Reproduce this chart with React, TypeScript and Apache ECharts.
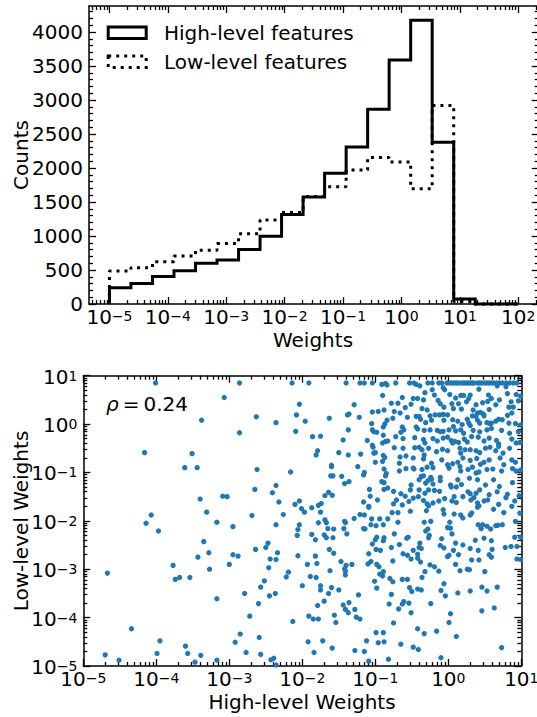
import React, { useEffect, useRef } from "react";
import * as echarts from "echarts";

// ---------- Histogram data (x in log10(weight)) ----------
const binEdges = [
  -5.0, -4.632, -4.263, -3.895, -3.526, -3.158, -2.789, -2.421, -2.053, -1.684,
  -1.316, -0.947, -0.579, -0.211, 0.158, 0.526, 0.895, 1.263, 1.632, 2.0,
];
const highCounts = [240, 300, 405, 490, 600, 648, 800, 995, 1315, 1575, 1925, 2310, 2865, 3590, 4175, 2380, 75, 0, 0];
const lowCounts = [485, 535, 620, 705, 790, 890, 1035, 1235, 1345, 1580, 1725, 1970, 2155, 2090, 1695, 2920, 35, 0, 0];

const countTicks = [0, 500, 1000, 1500, 2000, 2500, 3000, 3500, 4000];
const histDecades = [-5, -4, -3, -2, -1, 0, 1, 2];
const scatterDecades = [-5, -4, -3, -2, -1, 0, 1];
const legendLabels = ["High-level features", "Low-level features"];
const axisTitles = { histX: "Weights", histY: "Counts", scX: "High-level Weights", scY: "Low-level Weights" };
const rhoValue = "0.24";

// ---------- Scatter data: [log10(high-level weight), log10(low-level weight)] ----------
const scatterLeft: [number, number][] = [
  [-4.01,0.85],[-2.86,0.85],[-3.07,0.55],[-3.38,0.08],[-2.63,0.15],[-2.86,-0.18],[-4.16,-0.59],[-3.51,-0.61],[-3.61,-0.90],[-3.44,-0.90],
  [-2.62,-0.94],[-2.65,-1.35],[-3.09,-1.49],[-3.03,-1.50],[-3.40,-1.55],[-3.31,-1.82],[-4.07,-1.88],[-4.14,-2.05],[-2.69,-1.89],[-3.17,-2.03],
  [-3.97,-2.21],[-2.95,-2.12],[-3.35,-2.43],[-2.64,-2.59],[-3.28,-2.66],[-3.43,-2.75],[-2.95,-2.70],[-2.88,-2.73],[-3.77,-2.92],[-3.00,-2.90],
  [-3.27,-3.00],[-4.67,-3.08],[-3.74,-3.21],[-3.68,-3.17],[-3.54,-3.17],[-3.17,-3.61],[-2.79,-3.50],[-2.60,-3.71],[-2.72,-3.97],[-4.34,-4.23],
  [-3.95,-4.48],[-2.85,-4.34],[-2.59,-4.41],[-2.92,-4.51],[-3.60,-4.59],[-4.70,-4.77],[-4.51,-4.88],[-3.99,-4.74],[-3.57,-4.74],[-3.39,-4.78],
  [-3.47,-4.92],[-3.17,-4.88],[-2.77,-4.72],[-2.57,-3.37],
];
const scatterMidUpper: [number, number][] = [
  [-2.14,0.85],[-1.91,0.85],[-1.40,0.85],[-1.21,0.85],[-1.15,0.85],[-1.04,0.85],[-0.91,0.82],[-0.86,0.84],[-0.84,0.81],[-0.90,0.59],
  [-2.04,0.41],[-1.29,0.40],[-2.08,0.19],[-1.36,0.21],[-1.38,0.19],[-1.22,0.14],[-1.04,0.25],[-0.96,0.26],[-0.88,0.29],[-2.36,0.03],
  [-1.96,0.06],[-1.63,0.12],[-0.84,0.08],[-2.09,-0.15],[-1.37,-0.12],[-1.05,0.01],[-0.87,0.00],[-0.89,-0.06],[-1.04,-0.12],[-1.02,-0.16],
  [-0.98,-0.17],[-0.89,-0.23],[-1.86,-0.26],[-1.75,-0.25],[-1.44,-0.33],[-1.11,-0.34],[-0.90,-0.39],[-0.86,-0.36],[-0.83,-0.35],[-1.04,-0.44],
  [-1.03,-0.48],[-1.79,-0.55],[-1.81,-0.64],[-1.50,-0.59],[-1.37,-0.64],[-1.20,-0.62],[-1.02,-0.60],[-1.00,-0.59],[-0.89,-0.65],[-0.90,-0.77],
  [-0.87,-0.69],[-1.00,-0.79],[-1.60,-0.85],[-1.60,-0.88],[-1.24,-0.88],[-2.16,-0.99],[-1.15,-1.00],[-1.16,-1.05],[-0.88,-0.93],[-0.85,-1.02],
  [-0.86,-1.07],[-1.61,-1.07],[-1.58,-1.07],[-1.46,-1.08],[-1.36,-1.19],[-1.42,-1.23],[-0.91,-1.19],[-0.88,-1.21],[-2.36,-1.27],[-0.83,-1.32],
  [-0.88,-1.35],[-1.08,-1.35],[-2.41,-1.42],[-1.64,-1.41],[-1.69,-1.48],[-1.59,-1.47],[-1.07,-1.49],[-2.32,-1.61],[-2.04,-1.59],[-2.10,-1.66],
  [-1.74,-1.64],[-1.78,-1.68],[-1.16,-1.61],[-0.97,-1.57],[-1.09,-1.70],[-1.09,-1.72],[-2.01,-1.75],[-1.87,-1.73],[-2.26,-1.87],[-1.97,-1.82],
  [-1.75,-1.82],[-1.21,-1.87],[-1.15,-1.88],[-1.69,-1.98],[-1.29,-1.95],[-1.05,-1.96],[-0.94,-1.96],[-0.83,-1.96],
];
const scatterMidLower: [number, number][] = [
  [-2.36,-2.08],[-2.04,-2.08],[-1.78,-2.04],[-1.67,-2.04],[-1.42,-2.01],[-1.41,-2.04],[-2.06,-2.18],[-1.65,-2.16],[-1.57,-2.17],[-1.43,-2.16],
  [-1.16,-2.16],[-1.14,-2.17],[-1.06,-2.08],[-0.99,-2.10],[-0.89,-2.08],[-2.07,-2.30],[-1.87,-2.28],[-1.70,-2.29],[-1.67,-2.35],[-1.58,-2.35],
  [-1.39,-2.27],[-1.82,-2.39],[-0.98,-2.34],[-1.00,-2.39],[-0.88,-2.35],[-0.89,-2.41],[-2.47,-2.46],[-2.50,-2.55],[-1.63,-2.59],[-1.57,-2.67],
  [-1.04,-2.48],[-0.99,-2.59],[-0.93,-2.61],[-1.09,-2.68],[-2.34,-2.66],[-2.06,-2.72],[-1.82,-2.73],[-2.44,-2.79],[-2.36,-2.80],[-1.47,-2.84],
  [-1.40,-2.92],[-1.32,-2.90],[-1.06,-2.84],[-1.10,-2.89],[-0.98,-2.90],[-0.95,-2.95],[-0.89,-3.05],[-0.94,-3.10],[-0.90,-3.14],[-1.93,-2.90],
  [-1.80,-2.88],[-2.46,-2.97],[-1.42,-2.99],[-1.41,-3.04],[-1.41,-3.12],[-1.62,-3.03],[-2.19,-3.06],[-2.22,-3.16],[-1.89,-3.15],[-1.81,-3.17],
  [-1.01,-3.25],[-0.98,-3.39],[-2.52,-3.24],[-2.00,-3.34],[-1.75,-3.34],[-1.75,-3.43],[-1.60,-3.38],[-1.64,-3.50],[-1.50,-3.43],[-1.23,-3.53],
  [-2.45,-3.55],[-2.37,-3.50],[-1.70,-3.66],[-1.79,-3.75],[-1.36,-3.69],[-1.44,-3.74],[-1.41,-3.83],[-1.37,-3.90],[-1.28,-3.83],[-0.81,-3.72],
  [-1.91,-3.97],[-1.85,-4.03],[-1.78,-4.03],[-1.56,-3.95],[-1.54,-4.10],[-1.26,-3.99],[-1.21,-4.03],[-2.13,-4.08],[-0.99,-4.31],[-0.89,-4.31],
  [-1.12,-4.48],[-0.96,-4.52],[-0.88,-4.50],[-1.92,-4.50],[-1.72,-4.48],[-1.84,-4.72],[-1.59,-4.63],[-1.28,-4.68],[-1.15,-4.70],[-2.43,-4.87],
  [-2.39,-4.84],[-2.36,-4.98],[-1.09,-4.90],[-0.82,-4.86],[-2.57,-4.76],
];
const scatterRightUpper: [number, number][] = [
  [-0.72,0.85],[-0.53,0.85],[-0.47,0.85],[-0.44,0.82],[-0.28,0.85],[-0.22,0.85],[-0.13,0.85],[-0.09,0.85],[-0.02,0.85],[0.02,0.85],
  [0.05,0.85],[0.08,0.85],[0.11,0.85],[0.14,0.85],[0.18,0.85],[0.21,0.85],[0.24,0.85],[0.27,0.85],[0.30,0.85],[0.33,0.85],
  [0.35,0.85],[0.40,0.85],[0.43,0.85],[0.46,0.85],[0.50,0.85],[0.53,0.85],[0.56,0.85],[0.59,0.85],[0.62,0.85],[0.66,0.85],
  [0.70,0.85],[0.74,0.85],[0.79,0.85],[0.84,0.85],[0.89,0.85],[0.94,0.85],[-0.39,0.79],[-0.07,0.75],[-0.05,0.71],[0.67,0.79],
  [0.79,0.77],
  [-0.22,0.71],[-0.32,0.65],[-0.19,0.60],[0.02,0.61],[0.10,0.54],[0.17,0.59],[0.21,0.59],[0.30,0.60],[0.42,0.72],[0.55,0.60],
  [0.59,0.53],[0.81,0.63],[0.93,0.61],[0.96,0.48],[-0.63,0.55],[-0.48,0.53],[-0.42,0.53],[-0.34,0.50],[-0.78,0.43],[-0.69,0.43],
  [-0.51,0.41],[-0.14,0.49],[-0.11,0.42],[0.05,0.42],[0.14,0.42],[0.25,0.46],[0.28,0.53],[0.38,0.40],[0.47,0.44],[0.54,0.47],
  [0.65,0.40],[0.70,0.50],[0.86,0.46],[-0.59,0.34],[-0.74,0.26],[-0.66,0.23],[-0.36,0.32],[-0.29,0.29],[-0.06,0.35],[0.07,0.32],
  [0.18,0.31],[0.34,0.29],[0.40,0.23],[0.44,0.24],[0.48,0.21],[0.56,0.30],[0.83,0.35],[0.89,0.35],[-0.44,0.16],[-0.40,0.16],
  [-0.25,0.17],[-0.18,0.19],[-0.12,0.19],[-0.07,0.20],[-0.01,0.19],[0.33,0.17],[0.38,0.16],[0.49,0.17],[0.81,0.18],[0.87,0.23],
  [-0.76,0.12],[-0.56,0.14],[-0.38,0.10],[-0.31,0.03],[-0.23,0.08],[-0.06,0.08],[0.06,0.09],[0.13,0.06],[0.26,0.10],[0.28,0.02],
  [0.30,-0.03],[0.40,0.08],[0.43,0.02],[0.53,0.03],[0.57,0.01],[0.59,0.02],[0.65,0.06],[0.69,0.10],[0.74,0.09],[0.83,0.02],
  [0.92,0.01],[0.07,-0.05],[0.19,-0.01],[-0.63,-0.06],[-0.61,-0.12],[-0.65,-0.17],[-0.44,-0.06],[-0.42,-0.10],[-0.33,-0.13],[-0.25,-0.12],
  [-0.15,-0.13],[-0.11,-0.16],[-0.07,-0.15],[0.01,-0.12],[0.10,-0.14],[0.17,-0.12],[0.21,-0.19],[0.34,-0.13],[0.43,-0.16],[0.53,-0.12],
  [0.59,-0.09],[0.73,-0.13],[0.84,-0.19],[0.96,-0.16],[-0.72,-0.26],[-0.62,-0.30],[-0.46,-0.28],[-0.34,-0.32],[-0.32,-0.39],[-0.21,-0.30],
  [-0.15,-0.35],[-0.07,-0.29],[-0.01,-0.27],[0.04,-0.34],[0.06,-0.39],[0.09,-0.36],[0.14,-0.38],[0.22,-0.31],[0.26,-0.37],[0.32,-0.26],
  [0.41,-0.27],[0.49,-0.35],[0.56,-0.29],[0.66,-0.34],[0.69,-0.41],[0.87,-0.31],[0.93,-0.39],[0.98,-0.38],[-0.74,-0.49],[-0.62,-0.50],
  [-0.46,-0.49],[-0.40,-0.48],[-0.36,-0.53],[-0.27,-0.50],[-0.16,-0.57],[-0.08,-0.52],[-0.01,-0.55],[0.16,-0.50],[0.17,-0.60],[0.23,-0.53],
  [0.30,-0.53],[0.38,-0.55],[0.43,-0.59],[0.51,-0.50],[0.57,-0.48],[0.65,-0.55],[0.69,-0.46],[0.75,-0.60],[0.84,-0.50],[-0.58,-0.66],
  [-0.66,-0.68],[-0.33,-0.64],[0.99,0.58],[0.99,-0.02],
];
const scatterRightMid: [number, number][] = [
  [-0.48,-0.70],[-0.34,-0.72],[-0.23,-0.81],[-0.09,-0.74],[-0.01,-0.84],[0.06,-0.82],[0.13,-0.79],[0.20,-0.70],[0.30,-0.75],[0.39,-0.71],
  [0.44,-0.83],[0.49,-0.79],[0.56,-0.74],[0.71,-0.70],[0.76,-0.84],[0.87,-0.74],[0.92,-0.79],[-0.67,-0.81],[0.16,-0.88],[0.33,-0.89],
  [-0.48,-0.91],[-0.67,-0.97],[-0.58,-0.92],[-0.47,-0.93],[-0.36,-0.94],[-0.29,-0.89],[-0.21,-0.90],[0.01,-0.91],[0.17,-0.97],[0.27,-0.94],
  [0.38,-1.01],[0.42,-0.99],[0.53,-0.94],[0.61,-0.93],[0.73,-0.97],[0.88,-0.92],[0.93,-0.97],[-0.37,-1.08],[-0.34,-1.07],[-0.24,-1.10],
  [-0.11,-1.10],[-0.40,-1.15],[-0.31,-1.22],[-0.28,-1.17],[-0.23,-1.14],[-0.21,-1.24],[-0.11,-1.17],[0.03,-1.26],[0.13,-1.15],[0.18,-1.25],
  [0.29,-1.12],[0.40,-1.15],[0.51,-1.26],[0.62,-1.15],[0.70,-1.29],[0.88,-1.21],[-0.51,-1.26],[-0.75,-1.39],[-0.65,-1.44],[-0.52,-1.36],
  [-0.40,-1.36],[-0.32,-1.43],[-0.27,-1.36],[-0.19,-1.37],[-0.12,-1.39],[0.04,-1.30],[0.11,-1.30],[0.08,-1.50],[0.20,-1.50],[0.27,-1.40],
  [0.30,-1.44],[0.38,-1.43],[0.43,-1.36],[0.56,-1.46],[0.67,-1.40],[0.81,-1.45],[0.97,-1.48],[-0.71,-1.57],[-0.59,-1.49],[-0.48,-1.53],
  [-0.41,-1.50],[-0.34,-1.58],[-0.29,-1.65],[-0.21,-1.63],[-0.13,-1.59],[-0.05,-1.54],[0.05,-1.59],[0.11,-1.62],[0.31,-1.57],[0.35,-1.52],
  [0.40,-1.63],[0.42,-1.69],[0.49,-1.59],[0.54,-1.57],[0.69,-1.66],[0.79,-1.52],[0.91,-1.59],[-0.75,-1.65],[-0.63,-1.67],[-0.54,-1.60],
  [-0.27,-1.69],[-0.30,-1.79],[-0.07,-1.77],[-0.06,-1.86],[0.08,-1.86],[0.17,-1.88],[0.30,-1.88],[0.32,-1.84],[-0.77,-1.83],[-0.69,-1.83],
  [-0.52,-1.80],[0.40,-1.72],[0.62,-1.76],[0.87,-1.70],[0.76,-1.83],[0.98,-1.84],[0.20,-1.94],[0.99,-0.95],
];
const scatterRightLower: [number, number][] = [
  [-0.69,-2.03],[-0.74,-2.27],[-0.33,-2.03],[-0.24,-2.01],[0.02,-2.03],[-0.01,-2.14],[0.03,-2.15],[0.05,-2.27],[-0.28,-2.17],[-0.31,-2.21],
  [-0.26,-2.30],[-0.27,-2.35],[-0.09,-2.37],[0.41,-2.08],[0.47,-2.08],[0.45,-2.16],[0.53,-2.11],[0.58,-2.17],[0.65,-2.10],[0.68,-2.09],
  [0.74,-2.08],[0.92,-2.01],[-0.55,-2.34],[-0.57,-2.36],[-0.67,-2.49],[-0.78,-2.55],[-0.39,-2.46],[-0.48,-2.61],[-0.40,-2.55],[-0.37,-2.57],
  [-0.11,-2.51],[-0.06,-2.56],[0.10,-2.46],[0.20,-2.50],[0.37,-2.40],[0.30,-2.57],[0.41,-2.61],[0.49,-2.36],[0.59,-2.41],[0.60,-2.59],
  [0.78,-2.55],[0.86,-2.53],[0.94,-2.53],[0.91,-2.34],[-0.62,-2.68],[-0.56,-2.71],[-0.51,-2.79],[-0.42,-2.69],[-0.42,-2.77],[-0.38,-2.85],
  [0.01,-2.71],[-0.01,-2.74],[0.07,-2.61],[0.14,-2.70],[0.56,-2.70],[0.59,-2.75],[0.32,-2.81],[0.42,-2.81],[0.94,-2.79],[-0.76,-2.83],
  [-0.25,-2.91],[-0.19,-2.95],[-0.13,-3.04],[-0.32,-3.05],[0.10,-2.90],[0.16,-3.03],[0.26,-3.00],[0.29,-3.01],[0.50,-3.05],[-0.80,-3.19],
  [-0.76,-3.26],[-0.63,-3.21],[-0.56,-3.21],[-0.36,-3.17],[-0.06,-3.30],[-0.10,-3.44],[-0.04,-3.55],[-0.53,-3.38],[-0.50,-3.46],[-0.42,-3.41],
  [-0.37,-3.43],[0.13,-3.49],[0.30,-3.45],[0.46,-3.37],[0.53,-3.45],[0.67,-3.37],[-0.78,-3.52],[-0.61,-3.67],[-0.63,-3.72],[-0.54,-3.70],
  [-0.24,-3.71],[-0.68,-3.82],[-0.51,-3.90],[0.03,-3.92],[0.46,-3.86],[0.63,-3.80],[-0.75,-4.11],[0.01,-4.10],[-0.42,-4.23],[-0.33,-4.33],
  [-0.16,-4.28],[0.11,-4.39],[-0.65,-4.55],[-0.48,-4.61],[-0.41,-4.66],[0.73,-4.62],[-0.10,-4.83],[0.99,-2.34],[0.99,-2.80],
];

const FONT = "DejaVu Sans";
const INK = "#000";
const DOT_COLOR = "#1f77b4";

const supText = (n: number) => (n < 0 ? "\u2212" + String(-n) : String(n));
const decadeLabel = (v: number) => `{b|10}{s|${supText(Math.round(v))}}`;
const decadeRich = {
  b: { fontSize: 20, fontFamily: FONT, color: INK, lineHeight: 18, verticalAlign: "bottom" },
  s: { fontSize: 14, fontFamily: FONT, color: INK, lineHeight: 4, verticalAlign: "top" },
};

function logMinor(min: number, max: number): number[] {
  const out: number[] = [];
  for (let n = Math.floor(min); n <= Math.ceil(max); n++) {
    for (let k = 2; k <= 9; k++) {
      const v = n + Math.log10(k);
      if (v > min && v < max) out.push(v);
    }
  }
  return out;
}

function linearMinor(max: number, step: number, majorStep: number): number[] {
  const out: number[] = [];
  for (let v = step; v < max; v += step) if (v % majorStep !== 0) out.push(v);
  return out;
}

function stepPoints(edges: number[], counts: number[]): number[][] {
  const pts: number[][] = [[edges[0], 0]];
  counts.forEach((c, i) => {
    pts.push([edges[i], c]);
    pts.push([edges[i + 1], c]);
  });
  pts.push([edges[edges.length - 1], 0]);
  return pts;
}

function axisSet(
  dim: "x" | "y",
  gridIndex: number,
  min: number,
  max: number,
  major: number[],
  minor: number[],
  label: any
) {
  const mainPos = dim === "x" ? "bottom" : "left";
  const oppPos = dim === "x" ? "top" : "right";
  const mk = (position: string, ticks: number[], len: number, line: boolean, lab: any) => ({
    type: "value",
    gridIndex,
    min,
    max,
    position,
    splitLine: { show: false },
    axisPointer: { show: false },
    axisLine: { show: line, onZero: false, lineStyle: { color: INK, width: 1.5 } },
    axisTick: { show: true, inside: true, length: len, customValues: ticks, lineStyle: { color: INK, width: 1.3 } },
    axisLabel: lab ? lab : { show: false },
  });
  return [
    mk(mainPos, major, 7, true, label),
    mk(mainPos, minor, 4, false, null),
    mk(oppPos, major, 7, true, null),
    mk(oppPos, minor, 4, false, null),
  ];
}

const H_XMIN = -5.35, H_XMAX = 2.35, H_YMAX = 4384;
const S_MIN = -5, S_MAX = 1;

export default function App() {
  const ref = useRef<HTMLDivElement>(null);
  useEffect(() => {
    if (!ref.current) return;
    const chart = echarts.init(ref.current, undefined, { renderer: "svg", width: 537, height: 717 });

    const histX = axisSet("x", 0, H_XMIN, H_XMAX, histDecades, logMinor(H_XMIN, H_XMAX), {
      show: true, customValues: histDecades, formatter: decadeLabel, rich: decadeRich, margin: 4.5,
    });
    const histY = axisSet("y", 0, 0, H_YMAX, countTicks, linearMinor(H_YMAX, 100, 500), {
      show: true, customValues: countTicks, formatter: (v: number) => String(v),
      fontSize: 20, fontFamily: FONT, color: INK, margin: 6,
    });
    const scX = axisSet("x", 1, S_MIN, S_MAX, scatterDecades, logMinor(S_MIN, S_MAX), {
      show: true, customValues: scatterDecades, formatter: decadeLabel, rich: decadeRich, margin: 4.5,
    });
    const scY = axisSet("y", 1, S_MIN, S_MAX, scatterDecades, logMinor(S_MIN, S_MAX), {
      show: true, customValues: scatterDecades, formatter: decadeLabel, rich: decadeRich, margin: 6, padding: [4, 0, 0, 0],
    });

    const scatterAll = [
      ...scatterLeft, ...scatterMidUpper, ...scatterMidLower,
      ...scatterRightUpper, ...scatterRightMid, ...scatterRightLower,
    ];

    const option: any = {
      animation: false,
      backgroundColor: "#fff",
      textStyle: { fontFamily: FONT },
      grid: [
        { left: 89, top: 6, width: 449.7, height: 298, outerBoundsMode: "none" },
        { left: 83.3, top: 375.7, width: 438, height: 290.3, outerBoundsMode: "none" },
      ],
      xAxis: [...histX, ...scX],
      yAxis: [...histY, ...scY],
      series: [
        {
          name: legendLabels[0], type: "line", xAxisIndex: 0, yAxisIndex: 0,
          data: stepPoints(binEdges, highCounts), symbol: "none", clip: false,
          lineStyle: { color: INK, width: 3, join: "miter", cap: "butt" },
        },
        {
          name: legendLabels[1], type: "line", xAxisIndex: 0, yAxisIndex: 0,
          data: stepPoints(binEdges, lowCounts), symbol: "none", clip: false,
          lineStyle: { color: INK, width: 3, type: [3, 5], cap: "butt" },
        },
        {
          type: "scatter", xAxisIndex: 4, yAxisIndex: 4, data: scatterAll,
          symbol: "circle", symbolSize: 5.3, itemStyle: { color: DOT_COLOR, opacity: 1 },
        },
      ],
      graphic: [
        { type: "rect", shape: { x: 108.2, y: 27, width: 38, height: 11.5 }, style: { fill: "none", stroke: INK, lineWidth: 3 } },
        { type: "rect", shape: { x: 108.2, y: 56, width: 38, height: 11.5 }, style: { fill: "none", stroke: INK, lineWidth: 3, lineDash: [3, 5] } },
        { type: "text", x: 164, y: 32.5, style: { text: legendLabels[0], fontSize: 20, fontFamily: FONT, fill: INK, align: "left", verticalAlign: "middle" } },
        { type: "text", x: 164, y: 62, style: { text: legendLabels[1], fontSize: 20, fontFamily: FONT, fill: INK, align: "left", verticalAlign: "middle" } },
        { type: "text", x: 21, y: 155, rotation: Math.PI / 2, style: { text: axisTitles.histY, fontSize: 20, fontFamily: FONT, fill: INK, align: "center", verticalAlign: "middle" } },
        { type: "text", x: 313, y: 340, style: { text: axisTitles.histX, fontSize: 20, fontFamily: FONT, fill: INK, align: "center", verticalAlign: "middle" } },
        { type: "text", x: 21, y: 521, rotation: Math.PI / 2, style: { text: axisTitles.scY, fontSize: 20, fontFamily: FONT, fill: INK, align: "center", verticalAlign: "middle" } },
        { type: "text", x: 302, y: 701.5, style: { text: axisTitles.scX, fontSize: 20, fontFamily: FONT, fill: INK, align: "center", verticalAlign: "middle" } },
        {
          type: "text", x: 106, y: 404,
          style: {
            text: `{i|ρ}{n|\u2009=\u2009${rhoValue}}`,
            fontSize: 20, fontFamily: FONT, fill: INK, align: "left", verticalAlign: "middle",
            rich: {
              i: { fontSize: 20, fontFamily: FONT, fontStyle: "italic", fill: INK },
              n: { fontSize: 20, fontFamily: FONT, fill: INK },
            },
          },
        },
      ],
    };
    chart.setOption(option);
    return () => chart.dispose();
  }, []);
  return (
    <div
      ref={ref}
      style={{ position: "fixed", left: 0, top: 0, width: 537, height: 717, background: "#fff" }}
    />
  );
}
